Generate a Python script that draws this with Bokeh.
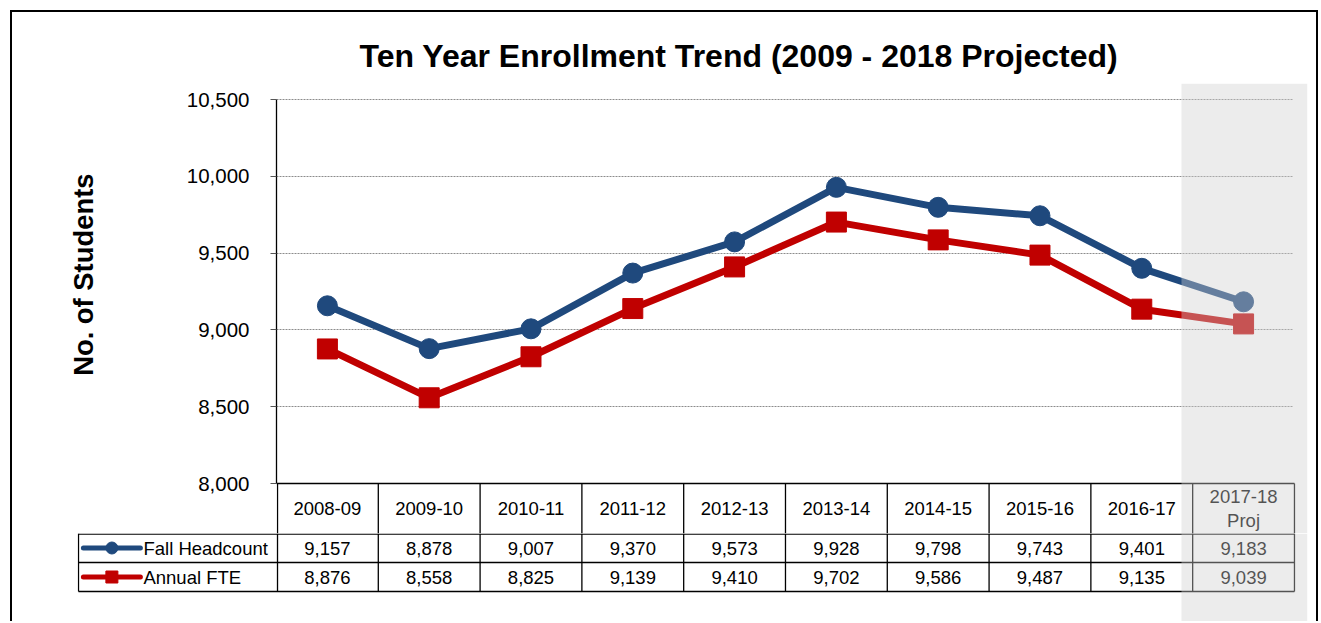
from bokeh.plotting import figure
from bokeh.models import Range1d, FixedTicker, NumeralTickFormatter, BoxAnnotation, ColumnDataSource, Title
from bokeh.layouts import column
from bokeh.core.properties import value
from bokeh.embed import file_html
from bokeh.resources import INLINE

# ---------------- data ----------------
categories = ["2008-09", "2009-10", "2010-11", "2011-12", "2012-13",
              "2013-14", "2014-15", "2015-16", "2016-17", "2017-18\nProj"]
fall_headcount = [9157, 8878, 9007, 9370, 9573, 9928, 9798, 9743, 9401, 9183]
annual_fte = [8876, 8558, 8825, 9139, 9410, 9702, 9586, 9487, 9135, 9039]
y_ticks = [8000, 8500, 9000, 9500, 10000, 10500]
series_names = ["Fall Headcount", "Annual FTE"]

BLUE = "#1f497d"
RED = "#c00000"
FONT = "Liberation Sans"
xs = list(range(len(categories)))
PROJ_LEFT = 8.39
OVERLAY = dict(fill_color="#cfcfcf", fill_alpha=0.4, line_color=None)
PX_PER_UNIT = 0.1536          # vertical pixels per student
HEADER_PX = 50                # height of the header row of the data table
Y_MIN = y_ticks[0] - HEADER_PX / PX_PER_UNIT
Y_MAX = y_ticks[0] + 450 / PX_PER_UNIT - HEADER_PX / PX_PER_UNIT

# ---------------- main chart (with header row of the table) ----------------
p = figure(width=1304, height=521,
           x_range=Range1d(-0.5, 9.628), y_range=Range1d(Y_MIN, Y_MAX),
           x_axis_location=None,
           min_border_left=264, min_border_right=9, min_border_top=71, min_border_bottom=0,
           output_backend="svg", toolbar_location=None)
p.frame_align = False
p.outline_line_color = None
p.background_fill_color = "white"
p.border_fill_color = "white"

p.title.text = "Ten Year Enrollment Trend (2009 - 2018 Projected)"
p.title.text_font = FONT
p.title.text_font_size = "32px"
p.title.text_font_style = "bold"
p.title.text_color = "black"
p.title.align = "left"
p.title.offset = 83
p.title.standoff = 19

ax = p.yaxis[0]
ax.ticker = FixedTicker(ticks=y_ticks)
ax.formatter = NumeralTickFormatter(format="0,0")
ax.bounds = (y_ticks[0], y_ticks[-1])
ax.axis_line_color = "black"
ax.axis_line_width = 1.3
ax.major_tick_out = 6
ax.major_tick_in = 0
ax.major_tick_line_color = "#555555"
ax.minor_tick_line_color = None
ax.major_label_text_font = FONT
ax.major_label_text_font_size = "20.5px"
ax.major_label_text_color = "black"
ax.major_label_standoff = 21
# blank spacer label: pushes the side title further out
ax.axis_label = " "
ax.axis_label_text_font_size = "2px"
ax.axis_label_standoff = 40

p.add_layout(Title(text="No. of Students", text_font=FONT, text_font_size="27.4px",
                   text_font_style="bold", text_color="black",
                   align="right", offset=90, standoff=80), "left")

p.xgrid.visible = False
p.ygrid.grid_line_color = "#8c8c8c"
p.ygrid.grid_line_dash = "2 1"
p.ygrid.grid_line_width = 1
p.ygrid.cross_bounds = (-0.5, 9.48)

src = ColumnDataSource(dict(x=xs, hc=fall_headcount, fte=annual_fte, cat=categories))
p.line("x", "hc", source=src, line_color=BLUE, line_width=7)
p.scatter("x", "hc", source=src, marker="circle", size=20, color=BLUE)
p.line("x", "fte", source=src, line_color=RED, line_width=7)
p.scatter("x", "fte", source=src, marker="square", size=20, color=RED)

# header row of the data table
vx = [i - 0.5 for i in range(len(categories) + 1)]
vx[0] = -0.49
p.segment(x0=[-0.5], y0=[y_ticks[0]], x1=[9.5], y1=[y_ticks[0]], line_color="black", line_width=1.3)
p.segment(x0=vx, y0=[y_ticks[0]] * len(vx), x1=vx, y1=[Y_MIN - 100] * len(vx),
          line_color="black", line_width=1.3)
common = dict(text_font=value(FONT), text_font_size="18.5px", text_color="black",
              text_align="center", text_baseline="middle")
p.text("x", y_ticks[0] - (HEADER_PX / 2) / PX_PER_UNIT, text="cat", source=src,
       line_height=1.15, **common)

p.add_layout(BoxAnnotation(left=PROJ_LEFT, **OVERLAY))

# ---------------- value rows of the data table ----------------
t = figure(width=1304, height=88,
           x_range=Range1d(-2.4548, 9.628), y_range=Range1d(-88, 0),
           x_axis_location=None, y_axis_location=None,
           min_border_left=65, min_border_right=9, min_border_top=0, min_border_bottom=0,
           output_backend="svg", toolbar_location=None)
t.frame_align = False
t.outline_line_color = None
t.grid.visible = False

ROW1_Y, ROW2_Y = -14.5, -43.5
LINES_Y = [-0.7, -29, -58]
LEFT_EDGE = -2.445

t.segment(x0=[LEFT_EDGE] * 3, y0=LINES_Y, x1=[9.5] * 3, y1=LINES_Y,
          line_color="black", line_width=1.3)
t.segment(x0=vx + [LEFT_EDGE], y0=[0] * (len(vx) + 1), x1=vx + [LEFT_EDGE], y1=[LINES_Y[-1]] * (len(vx) + 1),
          line_color="black", line_width=1.3)

tsrc = ColumnDataSource(dict(
    x=xs,
    hc=[f"{v:,}" for v in fall_headcount],
    fte=[f"{v:,}" for v in annual_fte],
))
t.text("x", ROW1_Y, text="hc", source=tsrc, **common)
t.text("x", ROW2_Y, text="fte", source=tsrc, **common)

# legend keys inside the table
LX0, LX1, LXM, LXT = -2.397, -1.837, -2.117, -1.807
t.segment(x0=[LX0], y0=[ROW1_Y], x1=[LX1], y1=[ROW1_Y], line_color=BLUE, line_width=5, line_cap="round")
t.scatter([LXM], [ROW1_Y], marker="circle", size=12, color=BLUE)
t.segment(x0=[LX0], y0=[ROW2_Y], x1=[LX1], y1=[ROW2_Y], line_color=RED, line_width=5, line_cap="round")
t.scatter([LXM], [ROW2_Y], marker="square", size=12, color=RED)
t.text([LXT, LXT], [ROW1_Y, ROW2_Y], text=series_names,
       text_font=value(FONT), text_font_size="18.5px", text_color="black",
       text_align="left", text_baseline="middle")

t.add_layout(BoxAnnotation(left=PROJ_LEFT, **OVERLAY))

layout = column(p, t, styles={"margin-left": "10px", "margin-top": "10px",
                              "border-top": "2px solid black",
                              "border-left": "2px solid black",
                              "border-right": "2px solid black",
                              "background": "white"})

open("out.html", "w").write(file_html(layout, INLINE))
